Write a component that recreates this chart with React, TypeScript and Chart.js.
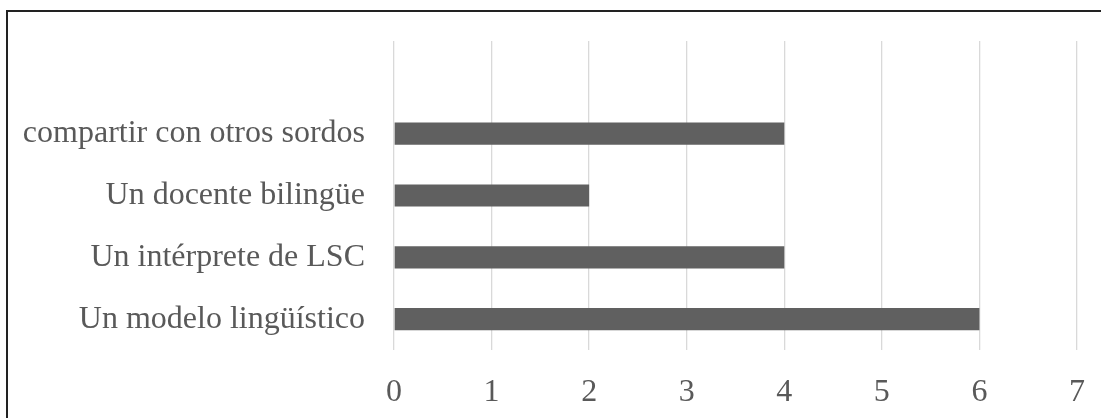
import React, { useEffect, useRef } from "react";
import { Chart, registerables } from "chart.js";

Chart.register(...registerables);

// Top-to-bottom order (the first slot is an empty category, as in the reference)
const categories: string[] = [
  "",
  "compartir con otros sordos",
  "Un docente bilingüe",
  "Un intérprete de LSC",
  "Un modelo lingüístico",
];
const values: (number | null)[] = [null, 4, 2, 4, 6];
const xMin = 0;
const xMax = 7;
const xStep = 1;

const FONT = "'Liberation Serif', 'Times New Roman', serif";
const TEXT = "#595959";

export default function App() {
  const ref = useRef<HTMLCanvasElement | null>(null);

  useEffect(() => {
    if (!ref.current) return;
    const chart = new Chart(ref.current, {
      type: "bar",
      data: {
        labels: categories,
        datasets: [
          {
            data: values as any,
            backgroundColor: "#606060",
            borderWidth: 0,
            categoryPercentage: 1,
            barPercentage: 0.36,
          },
        ],
      },
      options: {
        indexAxis: "y",
        responsive: false,
        animation: false,
        layout: { padding: { left: 0, right: 24, top: 41, bottom: 10 } },
        plugins: { legend: { display: false }, tooltip: { enabled: false } },
        scales: {
          x: {
            min: xMin,
            max: xMax,
            ticks: {
              stepSize: xStep,
              color: TEXT,
              font: { family: FONT, size: 32 },
              padding: 0,
            },
            grid: {
              color: "#d9d9d9",
              lineWidth: 1.3,
              drawTicks: true,
              tickLength: 23,
              tickColor: "rgba(0,0,0,0)",
            },
            border: { display: false },
            afterFit: (s: any) => {
              s.height = 58;
            },
          },
          y: {
            ticks: {
              color: TEXT,
              font: { family: FONT, size: 32 },
              padding: 0,
            },
            grid: {
              display: false,
              drawTicks: true,
              tickLength: 29,
              tickColor: "rgba(0,0,0,0)",
            },
            border: { display: false },
            afterFit: (s: any) => {
              s.width = 394;
            },
          },
        },
      },
    });
    return () => chart.destroy();
  }, []);

  return (
    <div
      style={{
        position: "absolute",
        left: 0,
        top: 0,
        width: 1101,
        height: 418,
        overflow: "hidden",
        background: "#fff",
      }}
    >
      <canvas
        ref={ref}
        width={1101}
        height={418}
        style={{ position: "absolute", left: 0, top: 0, width: 1101, height: 418 }}
      />
      <div
        style={{
          position: "absolute",
          left: 6,
          top: 10,
          width: 1200,
          height: 500,
          border: "2px solid #222",
          pointerEvents: "none",
        }}
      />
    </div>
  );
}
